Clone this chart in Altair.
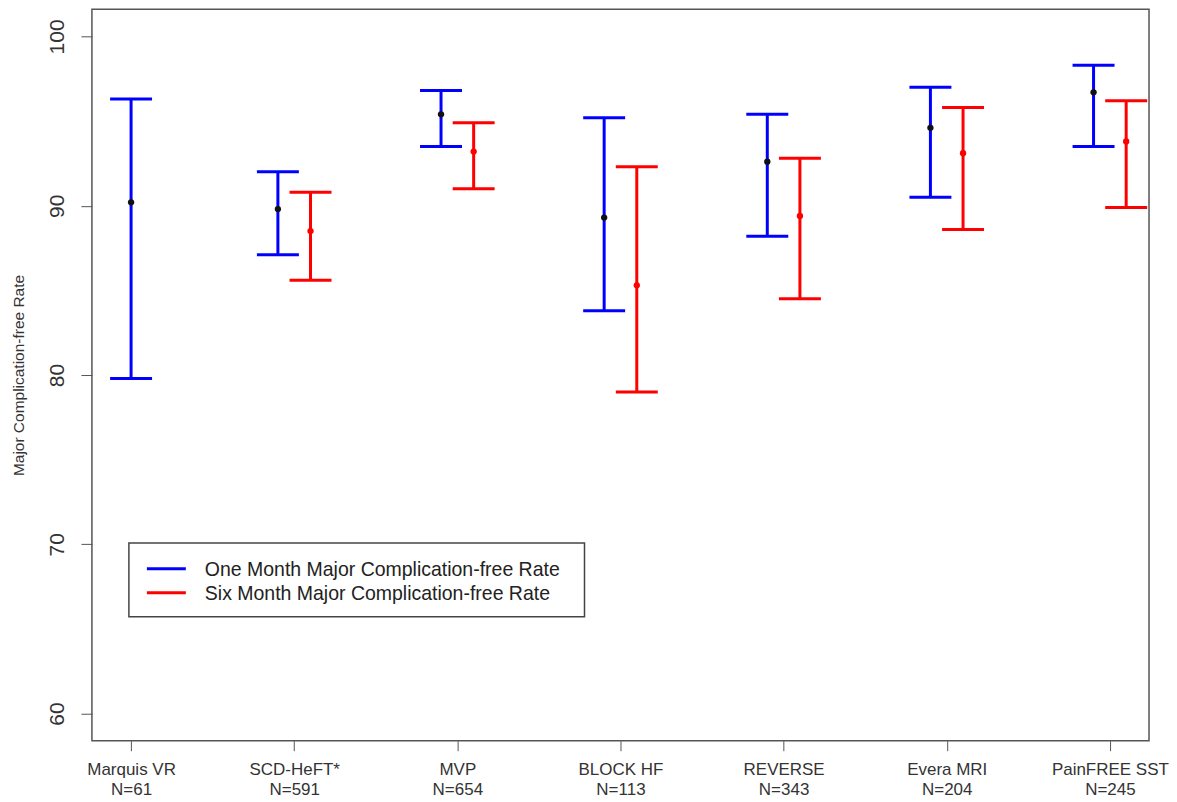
import json
import altair as alt
import pandas as pd

# ---- data ----
studies = ["Marquis VR", "SCD-HeFT*", "MVP", "BLOCK HF", "REVERSE", "Evera MRI", "PainFREE SST"]
n_values = [61, 591, 654, 113, 343, 204, 245]

one_mid = [90.2, 89.8, 95.4, 89.3, 92.6, 94.6, 96.7]
one_low = [79.8, 87.1, 93.5, 83.8, 88.2, 90.5, 93.5]
one_high = [96.3, 92.0, 96.8, 95.2, 95.4, 97.0, 98.3]

six_mid = [None, 88.5, 93.2, 85.3, 89.4, 93.1, 93.8]
six_low = [None, 85.6, 91.0, 79.0, 84.5, 88.6, 89.9]
six_high = [None, 90.8, 94.9, 92.3, 92.8, 95.8, 96.2]

series_names = ["One Month Major Complication-free Rate", "Six Month Major Complication-free Rate"]
series_colors = ["#0000FF", "#FF0000"]
dot_colors = ["#111111", "#FF0000"]

# ---- build long table ----
rows = []
for i, s in enumerate(studies):
    idx = i + 1
    has_six = six_mid[i] is not None
    rows.append(dict(study=s, idx=idx, series=series_names[0], dot=dot_colors[0],
                     offset=-0.1 if has_six else 0.0,
                     mid=one_mid[i], low=one_low[i], high=one_high[i]))
    if has_six:
        rows.append(dict(study=s, idx=idx, series=series_names[1], dot=dot_colors[1],
                         offset=0.1, mid=six_mid[i], low=six_low[i], high=six_high[i]))
df = pd.DataFrame(rows)

label_arr = [[s, f"N={n}"] for s, n in zip(studies, n_values)]
label_expr = json.dumps(label_arr) + "[datum.value - 1]"

FONT = "Liberation Sans"
W, H = 1058, 732

xscale = alt.Scale(domain=[0.76, 7.24], nice=False, zero=False)
yscale = alt.Scale(domain=[58.4, 101.6], nice=False, zero=False)
cscale = alt.Scale(domain=series_names, range=series_colors)

base = alt.Chart(df).transform_calculate(pos="datum.idx + datum.offset")

x_enc = alt.X("pos:Q", scale=xscale, axis=alt.Axis(
    values=list(range(1, len(studies) + 1)), labelExpr=label_expr, title=None,
    grid=False, domain=False, tickSize=10, tickColor="#555", tickWidth=1,
    labelPadding=11, labelFont=FONT, labelFontSize=17, labelColor="#333",
    labelLineHeight=20, labelOverlap=False, labelFlush=False))

y_axis = alt.Axis(values=[60, 70, 80, 90, 100], title="Major Complication-free Rate",
                  grid=False, domain=False, tickSize=11, tickColor="#555", tickWidth=1,
                  labelAngle=270, labelAlign="center", labelBaseline="bottom",
                  labelPadding=13, labelFont=FONT, labelFontSize=21, labelColor="#333",
                  titleFont=FONT, titleFontSize=15.5, titleFontWeight="normal",
                  titleColor="#333", titleAngle=270, titleX=-73, titleY=H / 2,
                  titleAlign="center", titleBaseline="middle")

bars = base.mark_rule(strokeWidth=3, opacity=1).encode(
    x=x_enc,
    y=alt.Y("low:Q", scale=yscale, axis=y_axis),
    y2="high:Q",
    color=alt.Color("series:N", scale=cscale, legend=None),
)
cap_low = base.mark_tick(orient="horizontal", size=42, thickness=3, opacity=1).encode(
    x="pos:Q", y="low:Q", color=alt.Color("series:N", scale=cscale, legend=None))
cap_high = base.mark_tick(orient="horizontal", size=42, thickness=3, opacity=1).encode(
    x="pos:Q", y="high:Q", color=alt.Color("series:N", scale=cscale, legend=None))
dots = base.mark_circle(size=40, opacity=1).encode(
    x="pos:Q", y="mid:Q", color=alt.Color("dot:N", scale=None))

# ---- legend box (drawn manually, R style) ----
one = pd.DataFrame({"k": [0]})
box = alt.Chart(one).mark_rect(fill="white", stroke="#444", strokeWidth=1.5).encode(
    x=alt.value(37), x2=alt.value(493), y=alt.value(534), y2=alt.value(608))
leg_layers = [box]
for j, (name, col) in enumerate(zip(series_names, series_colors)):
    yy = 560 + 24 * j
    leg_layers.append(alt.Chart(one).mark_rule(color=col, strokeWidth=3, opacity=1).encode(
        x=alt.value(55), x2=alt.value(94), y=alt.value(yy)))
    leg_layers.append(alt.Chart(pd.DataFrame({"t": [name]})).mark_text(
        align="left", baseline="middle", font=FONT, fontSize=19.5, color="#222").encode(
        x=alt.value(113), y=alt.value(yy + 1), text="t:N"))

chart = alt.layer(bars, cap_low, cap_high, dots, *leg_layers).properties(
    width=W, height=H,
    padding={"left": 84, "top": 1, "right": 20, "bottom": 60},
    autosize=alt.AutoSizeParams(type="none"),
    background="white",
).configure_view(stroke="#555", strokeWidth=1.5)

chart.save("out.html", embed_options={"renderer": "svg", "actions": False})
